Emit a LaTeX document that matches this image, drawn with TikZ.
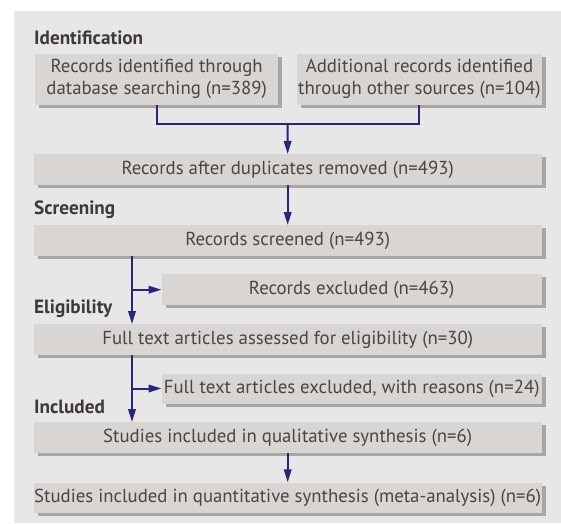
\documentclass[tikz,border=0pt]{standalone}
\usepackage{fontspec}
\setmainfont{PT Sans}
\usetikzlibrary{arrows.meta,shadows}
\definecolor{panelcol}{HTML}{E7E7E7}
\definecolor{boxcol}{HTML}{D9D5D2}
\definecolor{shadcol}{HTML}{A9A5A3}
\definecolor{txtcol}{HTML}{4A4442}
\definecolor{labcol}{HTML}{3E3836}
\definecolor{arrcol}{RGB}{38,38,122}
\begin{document}
\begin{tikzpicture}[x=1pt,y=-1pt,
  flowbox/.style={fill=boxcol, text=txtcol, anchor=north west, inner sep=0pt,
    align=center, font=\fontsize{18.8}{22}\selectfont,
    drop shadow={shadow xshift=4pt, shadow yshift=-3pt, fill=shadcol, opacity=1}},
  stagelabel/.style={anchor=west, inner sep=0pt, text=labcol,
    font=\fontsize{19.2}{20}\selectfont\bfseries},
  conn/.style={draw=arrcol, line width=2pt},
  arr/.style={conn, -{Triangle[length=13pt,width=7.5pt]}}]
\useasboundingbox (0,0) rectangle (561,523);
\fill[panelcol] (14,11) rectangle (561,523);
% stage labels
\node[stagelabel] (lid) at (34,38) {Identification};
\node[stagelabel] (lsc) at (34,210) {Screening};
\node[stagelabel] (lel) at (34,308.5) {Eligibility};
\node[stagelabel] (lin) at (34,406.5) {Included};
% boxes
\node[flowbox, minimum width=243pt, minimum height=51pt] (db) at (35,53.3)
  {Records identified through\\database searching (n=389)};
\node[flowbox, minimum width=244.5pt, minimum height=51pt] (other) at (297,53.3)
  {Additional records identified\\through other sources (n=104)};
\node[flowbox, minimum width=508pt, minimum height=30.5pt] (dup) at (33.5,154)
  {Records after duplicates removed (n=493)};
\node[flowbox, minimum width=508pt, minimum height=30.5pt] (scr) at (33.5,225)
  {Records screened (n=493)};
\node[flowbox, minimum width=380pt, minimum height=31pt] (exc) at (161.5,274)
  {Records excluded (n=463)};
\node[flowbox, minimum width=508pt, minimum height=30.5pt] (full) at (33.5,324)
  {Full text articles assessed for eligibility (n=30)};
\node[flowbox, minimum width=380pt, minimum height=30pt] (fexc) at (161.5,373.3)
  {Full text articles excluded, with reasons (n=24)};
\node[flowbox, minimum width=508pt, minimum height=30.5pt] (qual) at (33.5,422)
  {Studies included in qualitative synthesis (n=6)};
\node[flowbox, minimum width=508pt, minimum height=30.5pt] (quant) at (33.5,482.3)
  {Studies included in quantitative synthesis (meta-analysis) (n=6)};
% connectors
\coordinate (join) at (287.5,124);
\coordinate (trunk) at (132,0);
\draw[conn] (db.south) |- (join) -| (other.south);
\draw[arr] (join) -- (dup.north);
\draw[arr] (dup.south) -- (scr.north);
\draw[arr] (scr.south -| trunk) -- (full.north -| trunk);
\draw[arr] (exc.west -| trunk) -- (exc.west);
\draw[arr] (full.south -| trunk) -- (qual.north -| trunk);
\draw[arr] (fexc.west -| trunk) -- (fexc.west);
\draw[arr] (qual.south) -- (quant.north);
\end{tikzpicture}
\end{document}
